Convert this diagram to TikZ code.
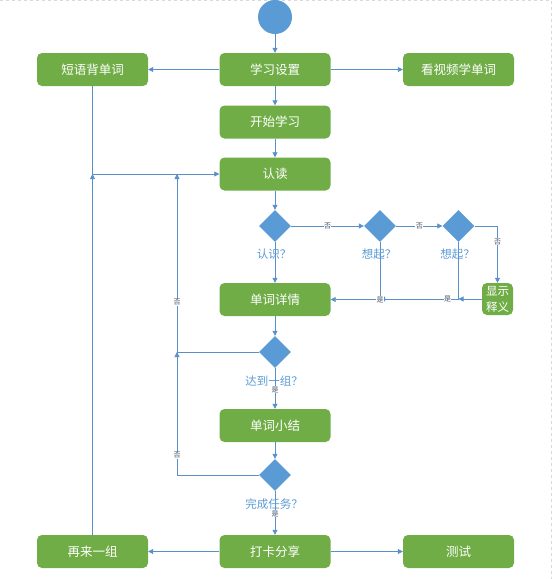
\documentclass[tikz,border=0pt]{standalone}
\usepackage{fontspec}
\setmainfont{Noto Sans CJK SC}
\usetikzlibrary{arrows.meta,shapes.geometric}
\definecolor{boxgreen}{HTML}{70AD47}
\definecolor{dblue}{HTML}{5B9BD5}
\definecolor{lblue}{HTML}{5A8FC8}
\definecolor{lbl}{HTML}{44546A}
\begin{document}
\begin{tikzpicture}[x=1pt,y=-1pt,
 stepbox/.style={fill=boxgreen, rounded corners=5pt, minimum width=111pt, minimum height=33pt, inner sep=0pt, text=white, font=\fontsize{12.5}{14}\selectfont},
 smallbox/.style={fill=boxgreen, rounded corners=5pt, minimum width=31pt, minimum height=32pt, inner sep=0pt, text=white, align=center, font=\fontsize{11.5}{16}\selectfont},
 decision/.style={diamond, fill=dblue, minimum width=32pt, minimum height=32pt, inner sep=0pt},
 qtext/.style={text=dblue, font=\fontsize{11.5}{13}\selectfont, inner sep=0pt},
 yn/.style={text=lbl, fill=white, font=\fontsize{7}{7}\selectfont, inner sep=0.4pt},
 conn/.style={draw=lblue, line width=0.8pt, -{Triangle[length=5pt,width=5pt]}},
]
\useasboundingbox (0,0) rectangle (552,579);
\draw[gray!30, dashed] (0,0.5) -- (551.5,0.5) -- (551.5,579);

\node[circle, fill=dblue, minimum size=34pt, inner sep=0pt] (start) at (275,17) {};
\node[stepbox] (set) at (275,69.5) {学习设置};
\node[stepbox] (phrase) at (92.5,69.5) {短语背单词};
\node[stepbox] (video) at (458.5,69.5) {看视频学单词};
\node[stepbox] (begin) at (275,122) {开始学习};
\node[stepbox] (read) at (275,174) {认读};
\node[decision] (d1) at (275,226) {};
\node[decision] (r1) at (380,226) {};
\node[decision] (r2) at (458.5,226) {};
\node[smallbox] (show) at (497.5,299) {显示\\释义};
\node[stepbox] (detail) at (275,299.5) {单词详情};
\node[decision] (d2) at (275,352) {};
\node[stepbox] (summary) at (275,425.5) {单词小结};
\node[decision] (d3) at (275,475) {};
\node[stepbox] (share) at (275,551.5) {打卡分享};
\node[stepbox] (again) at (92.5,551.5) {再来一组};
\node[stepbox] (test) at (458.5,551.5) {测试};

\coordinate (j1) at (380,299);
\coordinate (j2) at (458.5,299);
\coordinate (k1) at (177,174);
\coordinate (k2) at (177,352);
\coordinate (m) at (92.5,174);

\draw[conn] (start) -- (set);
\draw[conn] (set) -- (phrase);
\draw[conn] (set) -- (video);
\draw[conn] (set) -- (begin);
\draw[conn] (begin) -- (read);
\draw[conn] (read) -- (d1);
\draw[conn] (d1) -- (detail);
\draw[conn] (d1) -- node[yn]{否} (r1);
\draw[conn] (r1) -- node[yn]{否} (r2);
\draw[conn] (r2.east) -| node[yn,pos=0.64]{否} (show.north);
\draw[conn] (show.west) -- (j2);
\draw[conn] (r2.south) |- node[yn,pos=0.57]{是} (j1);
\draw[conn] (r1.south) |- node[yn,pos=0.5]{是} (detail.east);
\draw[conn] (detail) -- (d2);
\draw[conn] (d2) -- node[yn,pos=0.53]{是} (summary);
\draw[conn] (d2.west) -| node[yn,pos=0.64]{否} (k1);
\draw[conn] (summary) -- (d3);
\draw[conn] (d3) -- node[yn,pos=0.52]{是} (share);
\draw[conn] (d3.west) -| node[yn,pos=0.58]{否} (k2);
\draw[conn] (share) -- (again);
\draw[conn] (share) -- (test);
\draw[conn] (phrase.south) |- (read.west);
\draw[conn] (again.north) -- (m);

\node[qtext] (q1) at (274,254) {认识？};
\node[qtext] (q2) at (379,254) {想起？};
\node[qtext] (q3) at (457.5,254) {想起？};
\node[qtext] (q4) at (274,381) {达到一组？};
\node[qtext] (q5) at (274,504) {完成任务？};
\end{tikzpicture}
\end{document}
